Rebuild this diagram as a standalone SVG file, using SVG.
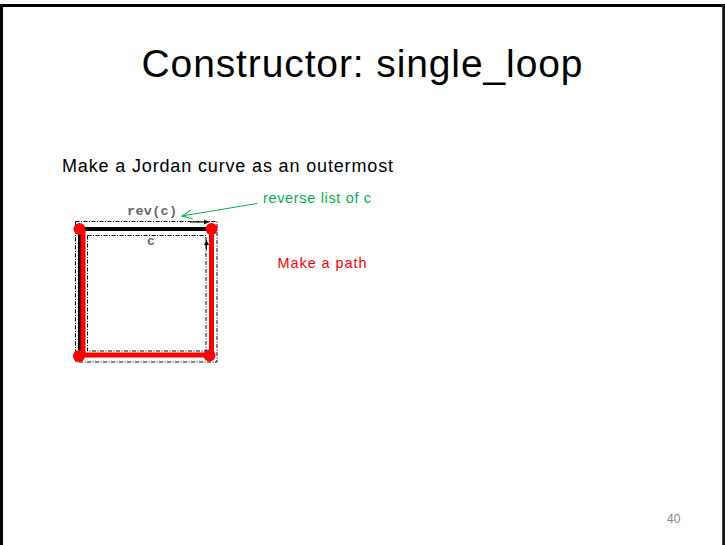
<svg xmlns="http://www.w3.org/2000/svg" width="725" height="545" viewBox="0 0 725 545">
<style>
.dash{fill:none;stroke:#000;stroke-width:1;stroke-dasharray:4 1.5 1 1.5}
.red{fill:none;stroke:#f00;stroke-width:5}
.dot{fill:#f00}
.lbl{font-family:"Liberation Sans",Arial,sans-serif}
.mono{font-family:"Liberation Mono","Courier New",monospace;font-weight:bold;fill:#666}
</style>
<defs>
<marker id="open" markerWidth="12" markerHeight="10" refX="10" refY="5" orient="auto" markerUnits="userSpaceOnUse">
<path d="M0,0.5 L10,5 L0,9.5" fill="none" stroke="#00b050" stroke-width="1"/>
</marker>
<marker id="tiny" markerWidth="6" markerHeight="6" refX="5" refY="3" orient="auto" markerUnits="userSpaceOnUse">
<path d="M0,0.5 L5,3 L0,5.5 Z" fill="#000"/>
</marker>
</defs>
<rect x="0" y="0" width="725" height="545" fill="#fff"/>
<g id="frame">
<path d="M1.5,545 V5.5 H723.5 V545" fill="none" stroke="#000" stroke-width="3"/>
<line x1="723.5" y1="5" x2="723.5" y2="545" stroke="#fff" stroke-width="1.5"/>
<line x1="723.8" y1="5" x2="723.8" y2="545" stroke="#000" stroke-width="1.5"/>
</g>
<g id="title">
<text x="362" y="77" text-anchor="middle" class="lbl" font-size="39" textLength="441" fill="#000">Constructor: single_loop</text>
</g>
<g id="subtitle">
<text x="62" y="172" class="lbl" font-size="18" textLength="331" fill="#000">Make a Jordan curve as an outermost</text>
</g>
<g id="square">
<rect x="75.5" y="221.5" width="141.5" height="140.5" class="dash"/>
<rect x="87.5" y="235.5" width="118.5" height="115.5" class="dash"/>
<line x1="190" y1="222" x2="209" y2="222" stroke="#000" stroke-width="1" marker-end="url(#tiny)"/>
<line x1="206.5" y1="250" x2="206.5" y2="240" stroke="#000" stroke-width="1" marker-end="url(#tiny)"/>
<rect x="80" y="229" width="131" height="126" fill="none" stroke="#000" stroke-width="4"/>
<path d="M83,229 V355 H211.5 V229" class="red"/>
<circle cx="79.5" cy="229" r="6" class="dot"/>
<circle cx="211.5" cy="229" r="6" class="dot"/>
<circle cx="79" cy="356" r="6" class="dot"/>
<circle cx="209.5" cy="355.5" r="6" class="dot"/>
<text x="127" y="215" class="mono" font-size="13.5" textLength="50">rev(c)</text>
<text x="147" y="245" class="mono" font-size="13">c</text>
</g>
<g id="connectors">
<line x1="257" y1="203.5" x2="182" y2="216" stroke="#00b050" stroke-width="1" marker-end="url(#open)"/>
</g>
<g id="note-reverse">
<text x="263" y="203" class="lbl" font-size="14.5" textLength="108" fill="#00b050">reverse list of c</text>
</g>
<g id="note-path">
<text x="277.5" y="268" class="lbl" font-size="14.5" textLength="89" fill="#f00">Make a path</text>
</g>
<g id="page">
<text x="667" y="523" class="lbl" font-size="12" fill="#888">40</text>
</g>
</svg>
